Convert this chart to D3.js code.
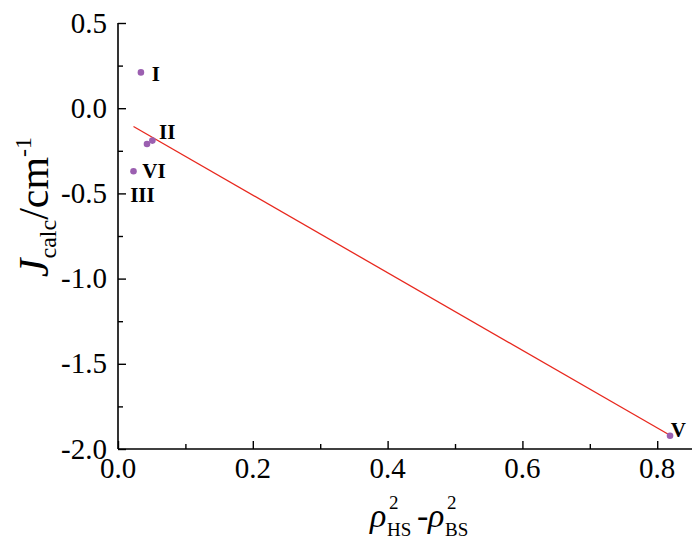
<!DOCTYPE html>
<html>
<head>
<meta charset="utf-8">
<script src="https://cdn.jsdelivr.net/npm/d3@7/dist/d3.min.js"></script>
<style>
  html, body { margin: 0; padding: 0; background: #ffffff; }
  svg { display: block; }
  svg text { font-family: 'Liberation Serif', 'Times New Roman', Times, serif; fill: #000; }
</style>
</head>
<body>
<svg id="chart" width="700" height="539" font-family="Liberation Serif, Times New Roman, serif"></svg>
<script>
// ---- data ----
const pointLabels = ["I", "II", "II'", "VI", "V"];
const xValues = [0.034, 0.051, 0.043, 0.023, 0.819];
const yValues = [0.21, -0.19, -0.21, -0.37, -1.922];
// text labels next to points
const labelNames = ["I", "II", "VI", "III", "V"];
const labelX = [0.05, 0.061, 0.036, 0.018, 0.820];
const labelY = [0.205, -0.135, -0.365, -0.51, -1.885];
const xTicks = [0.0, 0.2, 0.4, 0.6, 0.8];
const yTicks = [0.5, 0.0, -0.5, -1.0, -1.5, -2.0];

const svg = d3.select("#chart");
const mLeft = 118, mRight = 692, mTop = 23, mBottom = 449;
const x = d3.scaleLinear().domain([0, 0.8516]).range([mLeft, mRight]);
const y = d3.scaleLinear().domain([-2, 0.5]).range([mBottom, mTop]);

// linear fit
const n = xValues.length;
const mx = d3.mean(xValues), my = d3.mean(yValues);
let sxy = 0, sxx = 0;
for (let i = 0; i < n; i++) { sxy += (xValues[i]-mx)*(yValues[i]-my); sxx += (xValues[i]-mx)**2; }
const slope = sxy / sxx, intercept = my - slope*mx;
const [xmin, xmax] = d3.extent(xValues);

// axes
const xAxis = d3.axisBottom(x).tickValues(d3.range(0, 0.85, 0.1)).tickSize(-8).tickFormat("");
const gx = svg.append("g").attr("transform", `translate(0,${mBottom})`).call(xAxis);
gx.select(".domain").attr("d", `M${mLeft},0H${mRight}`);
gx.selectAll(".tick line").attr("y2", (d, i) => i % 2 === 0 ? -8 : -5);
const yAxis = d3.axisLeft(y).tickValues(d3.range(-2, 0.51, 0.25)).tickSize(-8).tickFormat("");
const gy = svg.append("g").attr("transform", `translate(${mLeft},0)`).call(yAxis);
gy.select(".domain").attr("d", `M0,${mTop}V${mBottom}`);
gy.selectAll(".tick line").attr("x2", (d, i) => i % 2 === 0 ? 8 : 5);
svg.selectAll(".domain").attr("stroke", "#000").attr("stroke-width", 1.6);
svg.selectAll(".tick line").attr("stroke", "#000").attr("stroke-width", 1.4);

// tick labels
svg.append("g").selectAll("text").data(xTicks).join("text")
  .attr("x", d => x(d)).attr("y", 478)
  .attr("text-anchor", "middle").attr("font-size", 29)
  .text(d => d.toFixed(1));
svg.append("g").selectAll("text").data(yTicks).join("text")
  .attr("x", 107).attr("y", d => y(d)).attr("dy", "0.33em")
  .attr("text-anchor", "end").attr("font-size", 29)
  .text(d => d.toFixed(1));

// fit line
svg.append("line")
  .attr("x1", x(xmin)).attr("y1", y(intercept + slope*xmin))
  .attr("x2", x(xmax)).attr("y2", y(intercept + slope*xmax))
  .attr("stroke", "#e8281e").attr("stroke-width", 1.3);

// points
svg.append("g").selectAll("circle").data(xValues).join("circle")
  .attr("cx", d => x(d)).attr("cy", (d, i) => y(yValues[i]))
  .attr("r", 3.3).attr("fill", "#9b5fb0");

// point labels
svg.append("g").selectAll("text").data(labelNames).join("text")
  .attr("x", (d, i) => x(labelX[i])).attr("y", (d, i) => y(labelY[i])).attr("dy", "0.35em")
  .attr("font-size", 21).attr("font-weight", "bold")
  .text(d => d);

// x title: rho^2_HS - rho^2_BS (sup and sub stacked)
function rhoTerm(x0, sub) {
  const g = svg.append("g");
  g.append("text").attr("x", x0).attr("y", 527).attr("font-size", 34).attr("font-style", "italic").text("ρ");
  g.append("text").attr("x", x0 + 19).attr("y", 509).attr("font-size", 19).text("2");
  g.append("text").attr("x", x0 + 17).attr("y", 536).attr("font-size", 19).text(sub);
}
rhoTerm(370, "HS");
svg.append("text").attr("x", 417).attr("y", 527).attr("font-size", 34).text("-");
rhoTerm(428, "BS");

// y title
const yt = svg.append("text").attr("transform", "translate(48,207) rotate(-90)").attr("text-anchor", "middle").attr("font-size", 42);
yt.append("tspan").attr("font-style", "italic").text("J");
yt.append("tspan").attr("font-size", 24).attr("dy", 8).text("calc");
yt.append("tspan").attr("dy", -8).text("/cm");
yt.append("tspan").attr("font-size", 24).attr("dy", -17).text("-1");
</script>
</body>
</html>
